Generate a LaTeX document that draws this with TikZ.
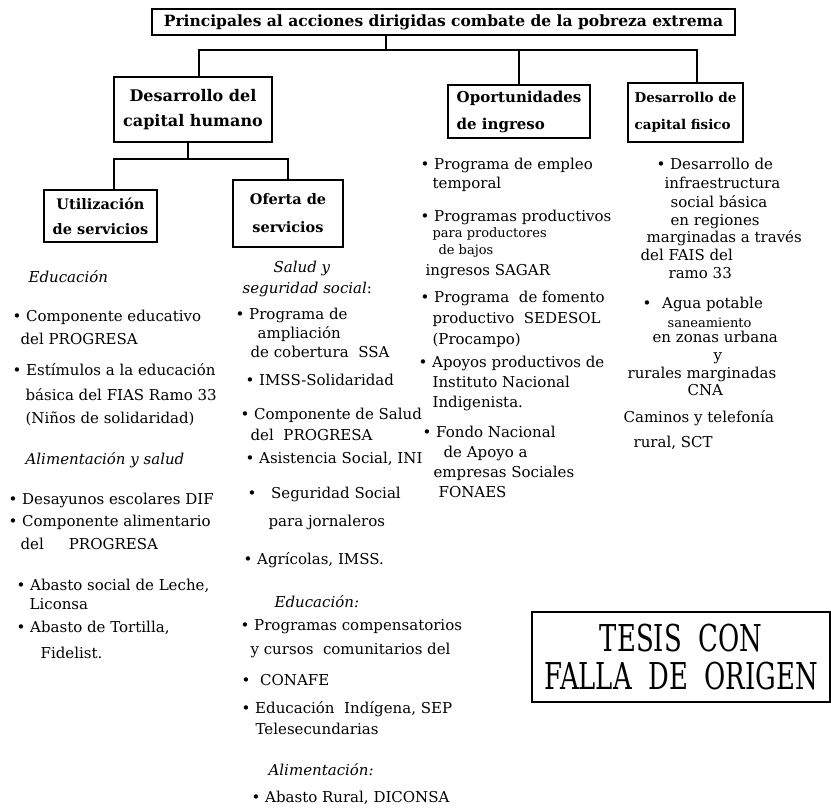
\documentclass[tikz,border=0pt]{standalone}
\usepackage{fontspec}
\setmainfont{DejaVu Serif}
\newfontfamily\stampfont[FakeStretch=0.7]{DejaVu Serif}
\usetikzlibrary{positioning}
\newcommand{\dotitem}{\textbullet\ }
\newcommand{\chico}{\fontsize{13}{15}\selectfont}
\tikzset{
	caja/.style={draw, line width=1.2pt, inner sep=2pt, align=center},
	txt/.style={anchor=base west, inner sep=0pt, font=\fontsize{15}{18}\selectfont},
}
\begin{document}
\begin{tikzpicture}[x=1pt, y=-1pt, line width=1.2pt]
			\useasboundingbox (0,0) rectangle (831,809);
			% cajas
			\node[caja, minimum width=583pt, minimum height=26pt, font=\bfseries\fontsize{15.5}{17}\selectfont] (tit) at (443.5,22) {Principales al acciones dirigidas combate de la pobreza extrema};
			\node[caja, minimum width=158pt, minimum height=65pt, font=\bfseries\fontsize{16}{25}\selectfont] (hum) at (193,109.5) {Desarrollo del\\capital humano};
			\node[caja, align=left, minimum width=142pt, minimum height=53pt, font=\bfseries\fontsize{15}{27}\selectfont] (opo) at (519,111.5) {Oportunidades\\de ingreso};
			\node[caja, align=left, minimum width=115pt, minimum height=59pt, font=\bfseries\fontsize{13.5}{27}\selectfont] (fis) at (685.5,112.5) {Desarrollo de\\capital fisico};
			\node[caja, minimum width=113pt, minimum height=52pt, font=\bfseries\fontsize{14.5}{25}\selectfont] (uti) at (100.5,216) {Utilización\\de servicios};
			\node[caja, minimum width=110pt, minimum height=67pt, font=\bfseries\fontsize{14.5}{28}\selectfont] (ofe) at (288,213.5) {Oferta de\\servicios};
			\node[draw, line width=1.4pt, minimum width=298pt, minimum height=90pt, inner sep=0pt, align=center, font=\stampfont\fontsize{37}{38}\selectfont] (sello) at (681,657) {TESIS\ \ CON\\FALLA\ \ DE\ \ ORIGEN};
			%
			\coordinate (bus)  at (386,50);
			\coordinate (bus2) at (188,159);
			\draw (tit.south -| bus) -- (bus);
			\draw ([xshift=6pt]hum.north) |- (bus) -| ([xshift=11.5pt]fis.north);
			\draw (opo.north) -- (opo.north |- bus);
			\draw (hum.south -| bus2) -- (bus2);
			\draw ([xshift=13.5pt]uti.north) |- (bus2) -| (ofe.north);
			%
			\def\colA {28/282/\textit{Educación}, 12/321/\dotitem Componente educativo, 20/344/del PROGRESA,
				12/375/\dotitem Estímulos a la educación, 25/400/básica del FIAS Ramo 33, 25/423/(Niños de solidaridad),
				25/464/\textit{Alimentación y salud}, 8/504/\dotitem Desayunos escolares DIF, 8/526/\dotitem Componente alimentario,
				20/549/del\hspace{25pt}PROGRESA, 16/590/{\dotitem Abasto social de Leche,}, 29/609/Liconsa,
				16/632/{\dotitem Abasto de Tortilla,}, 40/658/Fidelist.}  % list elements
			\foreach \x/\y/\t [count=\i] in \colA
			{	\node[txt] (a\i) at (\x,\y) {\t};
			}
			\def\colB {273/272/\textit{Salud y}, 242/293/\textit{seguridad social}:, 235/319/\dotitem Programa de,
				257/338/ampliación, 250/357/de cobertura\ \ SSA, 245/385/\dotitem IMSS-Solidaridad,
				240/419/\dotitem Componente de Salud, 250/440/del\ \ PROGRESA, 245/463/{\dotitem Asistencia Social, INI},
				247/498/\dotitem\hspace{10pt}Seguridad Social, 268/526/para jornaleros, 243/564/{\dotitem Agrícolas, IMSS.},
				274/607/\textit{Educación:}, 240/630/\dotitem Programas compensatorios, 250/654/y cursos\ \ comunitarios del,
				241/685/\dotitem\hspace{5pt}CONAFE, 241/713/{\dotitem Educación\ \ Indígena, SEP}, 255/734/Telesecundarias,
				268/775/\textit{Alimentación:}, 251/802/{\dotitem Abasto Rural, DICONSA}}  % list elements
			\foreach \x/\y/\t [count=\i] in \colB
			{	\node[txt] (b\i) at (\x,\y) {\t};
			}
			\def\colC {420/169/\dotitem Programa de empleo, 432/188/temporal, 420/221/\dotitem Programas productivos,
				432/237/\chico para productores, 438/254/\chico de bajos, 425/275/ingresos SAGAR,
				420/302/\dotitem Programa\ \ de fomento, 432/323/productivo\ \ SEDESOL, 432/344/(Procampo),
				418/367/\dotitem Apoyos productivos de, 432/387/Instituto Nacional, 432/407/Indigenista.,
				422/437/\dotitem Fondo Nacional, 443/457/de Apoyo a, 433/477/empresas Sociales, 438/497/FONAES}  % list elements
			\foreach \x/\y/\t [count=\i] in \colC
			{	\node[txt] (c\i) at (\x,\y) {\t};
			}
			\def\colD {656/169/\dotitem Desarrollo de, 664/188/infraestructura, 670/207/social básica,
				670/225/en regiones, 646/242/marginadas a través, 640/260/del FAIS del, 668/278/ramo 33,
				642/308/\dotitem\hspace{6pt}Agua potable, 667/327/\chico saneamiento, 652/342/en zonas urbana,
				713/360/y, 627/378/rurales marginadas, 687/395/CNA, 623/422/Caminos y telefonía, 633/447/{rural, SCT}}  % list elements
			\foreach \x/\y/\t [count=\i] in \colD
			{	\node[txt] (d\i) at (\x,\y) {\t};
			}
			%
		\end{tikzpicture}
\end{document}
